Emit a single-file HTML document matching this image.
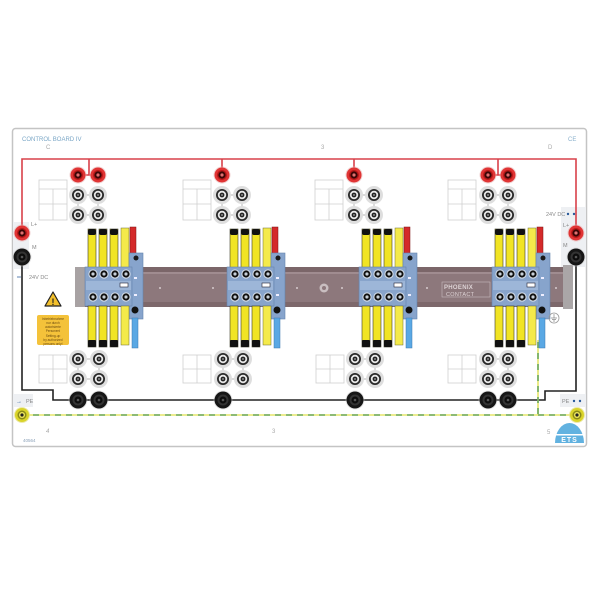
<!DOCTYPE html>
<html><head><meta charset="utf-8"><style>
html,body{margin:0;padding:0;background:#fff;}
svg{display:block;}
text{font-family:"Liberation Sans",sans-serif;}
</style></head><body>
<svg width="600" height="600" viewBox="0 0 600 600" xmlns="http://www.w3.org/2000/svg">
<defs>
  <g id="sr">
    <circle r="8.5" fill="#e8b4b4" opacity="0.6"/>
    <circle r="7.5" fill="#e03434"/>
    <circle r="5" fill="#b81818"/>
    <circle r="3.6" fill="#3a0606"/>
    <circle r="1.6" fill="#e07070"/>
  </g>
  <g id="sg">
    <circle r="9" fill="#dedede"/>
    <circle r="6" fill="#2a2a2a"/>
    <circle r="4.2" fill="#e8e8e8"/>
    <circle r="2.4" fill="#222"/>
    <circle r="0.9" fill="#aaa"/>
  </g>
  <g id="sb">
    <circle r="9.5" fill="#cfcfcf" opacity="0.5"/>
    <circle r="8.5" fill="#161616"/>
    <circle r="5.5" fill="#333"/>
    <circle r="3.5" fill="#0c0c0c"/>
    <circle r="1.3" fill="#555"/>
  </g>
  <g id="ty">
    <circle r="4.6" fill="#d8e0ea"/>
    <circle r="3.6" fill="#111"/>
    <circle r="1.6" fill="#c8d0d8"/>
  </g>
  <g id="mod">
    <rect x="3" y="229" width="8" height="40" fill="#f1e424" stroke="#3a3a2a" stroke-width="0.6"/>
    <rect x="14" y="229" width="8" height="40" fill="#f1e424" stroke="#3a3a2a" stroke-width="0.6"/>
    <rect x="25" y="229" width="8" height="40" fill="#f1e424" stroke="#3a3a2a" stroke-width="0.6"/>
    <rect x="36" y="228" width="8" height="41" fill="#f4ea4a" stroke="#6a6a30" stroke-width="0.5"/>
    <rect x="3" y="229" width="8" height="6" rx="2" fill="#111"/>
    <rect x="14" y="229" width="8" height="6" rx="2" fill="#111"/>
    <rect x="25" y="229" width="8" height="6" rx="2" fill="#111"/>
    <rect x="45" y="227" width="6" height="28" fill="#d42a2a" stroke="#7a1010" stroke-width="0.5"/>
    <rect x="44" y="253" width="14" height="66" fill="#87a4cc" stroke="#6584ad" stroke-width="0.6"/>
    <circle cx="51" cy="258" r="2.5" fill="#1a1a1a"/>
    <rect x="49" y="277" width="3" height="2" fill="#eef"/>
    <rect x="49" y="294" width="3" height="2" fill="#eef"/>
    <rect x="0" y="267" width="47" height="39" fill="#88a4cb" stroke="#6584ad" stroke-width="0.6"/>
    <rect x="1" y="281" width="45" height="9" fill="#9db6d8"/>
    <rect x="35" y="283" width="8" height="4" fill="#fff" stroke="#223" stroke-width="0.6"/>
    <use href="#ty" x="8" y="274"/><use href="#ty" x="19" y="274"/><use href="#ty" x="30" y="274"/><use href="#ty" x="41" y="274"/>
    <use href="#ty" x="8" y="297"/><use href="#ty" x="19" y="297"/><use href="#ty" x="30" y="297"/><use href="#ty" x="41" y="297"/>
    <rect x="3" y="306" width="8" height="41" fill="#f1e424" stroke="#3a3a2a" stroke-width="0.6"/>
    <rect x="14" y="306" width="8" height="41" fill="#f1e424" stroke="#3a3a2a" stroke-width="0.6"/>
    <rect x="25" y="306" width="8" height="41" fill="#f1e424" stroke="#3a3a2a" stroke-width="0.6"/>
    <rect x="36" y="306" width="8" height="39" fill="#f4ea4a" stroke="#6a6a30" stroke-width="0.5"/>
    <rect x="3" y="340" width="8" height="7" rx="1" fill="#111"/>
    <rect x="14" y="340" width="8" height="7" rx="1" fill="#111"/>
    <rect x="25" y="340" width="8" height="7" rx="1" fill="#111"/>
    <rect x="47" y="318" width="6" height="30" fill="#5aa8e4" stroke="#3a78b0" stroke-width="0.5"/>
    <circle cx="50" cy="310" r="3.5" fill="#111"/>
  </g>
  <g id="boxT" fill="none" stroke="#cfcfcf" stroke-width="0.8">
    <rect x="0" y="0" width="28" height="40"/>
    <line x1="0" y1="9" x2="28" y2="9"/>
    <line x1="14" y1="9" x2="14" y2="40"/>
    <line x1="0" y1="24" x2="28" y2="24"/>
  </g>
  <g id="boxB" fill="none" stroke="#cfcfcf" stroke-width="0.8">
    <rect x="0" y="0" width="28" height="28"/>
    <line x1="14" y1="0" x2="14" y2="28"/>
    <line x1="0" y1="14" x2="28" y2="14"/>
  </g>
</defs>

<rect x="12.5" y="128.5" width="574" height="318" rx="3" fill="#fff" stroke="#c4c4c4" stroke-width="1.5"/>

<rect x="13" y="222" width="16" height="47" fill="#eef0f3"/>
<rect x="561" y="207" width="25" height="60" fill="#eef0f3"/>
<rect x="13" y="394" width="20" height="13" fill="#eef0f3"/>
<rect x="560" y="394" width="26" height="13" fill="#eef0f3"/>

<use href="#boxT" x="39" y="180"/><use href="#boxT" x="183" y="180"/><use href="#boxT" x="315" y="180"/><use href="#boxT" x="448" y="180"/>
<use href="#boxB" x="39" y="355"/><use href="#boxB" x="183" y="355"/><use href="#boxB" x="316" y="355"/><use href="#boxB" x="448" y="355"/>

<g stroke="#d8414a" stroke-width="1.6" fill="none">
  <polyline points="22,226 22,159 576,159 576,226"/>
  <line x1="89" y1="159" x2="89" y2="175"/>
  <line x1="78" y1="175" x2="98" y2="175"/>
  <line x1="222" y1="159" x2="222" y2="170"/>
  <line x1="354" y1="159" x2="354" y2="170"/>
  <line x1="498" y1="159" x2="498" y2="175"/>
  <line x1="488" y1="175" x2="508" y2="175"/>
</g>

<g stroke="#c4c4c4" stroke-width="1.2">
  <path d="M78 195H98M78 215H98M78 195V215M98 195V215"/>
  <path d="M222 195H242M222 215H242M222 195V215M242 195V215"/>
  <path d="M354 195H374M354 215H374M354 195V215M374 195V215"/>
  <path d="M488 195H508M488 215H508M488 195V215M508 195V215"/>
  <path d="M78 359H99M78 379H99M78 359V379M99 359V379"/>
  <path d="M223 359H243M223 379H243M223 359V379M243 359V379"/>
  <path d="M355 359H375M355 379H375M355 359V379M375 359V379"/>
  <path d="M488 359H508M488 379H508M488 359V379M508 359V379"/>
</g>

<polyline points="22,264 22,390 53,390 53,400 545,400 545,391 576,391 576,264" fill="none" stroke="#222" stroke-width="1.6"/>

<g fill="none" stroke-width="1.6">
  <polyline points="22,415 538,415 538,340" stroke="#e6e66a"/>
  <polyline points="538,415 577,415" stroke="#e6e66a"/>
  <polyline points="22,415 538,415 538,340" stroke="#6aa860" stroke-dasharray="6,5"/>
  <polyline points="538,415 577,415" stroke="#6aa860" stroke-dasharray="6,5"/>
</g>

<rect x="75" y="267" width="497" height="40" fill="#8d787c"/>
<rect x="75" y="267" width="497" height="5" fill="#7b6669"/>
<rect x="75" y="302" width="497" height="5" fill="#7d686b"/>
<rect x="75" y="272" width="497" height="2" fill="#a08c90"/>
<rect x="75" y="267" width="10" height="40" fill="#a8a2a3"/>
<rect x="563" y="265" width="10" height="44" fill="#aaa6a7"/>
<circle cx="324" cy="288" r="4.5" fill="#c9bec0"/>
<circle cx="324" cy="288" r="2" fill="#8d787c"/>
<g fill="#d6cbcd">
  <circle cx="213" cy="288" r="1"/><circle cx="297" cy="288" r="1"/><circle cx="342" cy="288" r="1"/>
  <circle cx="427" cy="288" r="1"/><circle cx="556" cy="288" r="1"/><circle cx="160" cy="288" r="1"/>
</g>
<rect x="442" y="282" width="48" height="15" fill="none" stroke="#c8bcbe" stroke-width="0.6"/>
<text x="444" y="289" font-size="6" fill="#ddd3d5" font-weight="bold" letter-spacing="0.3">PHOENIX</text>
<text x="446" y="296" font-size="5.5" fill="#ddd3d5" letter-spacing="0.3">CONTACT</text>

<use href="#mod" x="85" y="0"/>
<use href="#mod" x="227" y="0"/>
<use href="#mod" x="359" y="0"/>
<use href="#mod" x="492" y="0"/>

<use href="#sr" x="78" y="175"/><use href="#sr" x="98" y="175"/><use href="#sr" x="222" y="175"/><use href="#sr" x="354" y="175"/><use href="#sr" x="488" y="175"/><use href="#sr" x="508" y="175"/>
<use href="#sr" x="22" y="233"/><use href="#sr" x="576" y="233"/>
<use href="#sg" x="78" y="195"/><use href="#sg" x="98" y="195"/><use href="#sg" x="78" y="215"/><use href="#sg" x="98" y="215"/>
<use href="#sg" x="222" y="195"/><use href="#sg" x="242" y="195"/><use href="#sg" x="222" y="215"/><use href="#sg" x="242" y="215"/>
<use href="#sg" x="354" y="195"/><use href="#sg" x="374" y="195"/><use href="#sg" x="354" y="215"/><use href="#sg" x="374" y="215"/>
<use href="#sg" x="488" y="195"/><use href="#sg" x="508" y="195"/><use href="#sg" x="488" y="215"/><use href="#sg" x="508" y="215"/>
<use href="#sg" x="78" y="359"/><use href="#sg" x="99" y="359"/><use href="#sg" x="78" y="379"/><use href="#sg" x="99" y="379"/>
<use href="#sg" x="223" y="359"/><use href="#sg" x="243" y="359"/><use href="#sg" x="223" y="379"/><use href="#sg" x="243" y="379"/>
<use href="#sg" x="355" y="359"/><use href="#sg" x="375" y="359"/><use href="#sg" x="355" y="379"/><use href="#sg" x="375" y="379"/>
<use href="#sg" x="488" y="359"/><use href="#sg" x="508" y="359"/><use href="#sg" x="488" y="379"/><use href="#sg" x="508" y="379"/>
<use href="#sb" x="78" y="400"/><use href="#sb" x="99" y="400"/><use href="#sb" x="223" y="400"/><use href="#sb" x="355" y="400"/><use href="#sb" x="488" y="400"/><use href="#sb" x="508" y="400"/>
<use href="#sb" x="22" y="257"/><use href="#sb" x="576" y="257"/>

<g>
  <circle cx="22" cy="415" r="8" fill="#e4e08a" opacity="0.7"/>
  <circle cx="22" cy="415" r="7" fill="#d9d32a"/>
  <circle cx="22" cy="415" r="4.5" fill="#8a8a18"/>
  <circle cx="22" cy="415" r="3" fill="#f0e860"/>
  <circle cx="22" cy="415" r="1.6" fill="#222"/>
  <circle cx="577" cy="415" r="8" fill="#e4e08a" opacity="0.7"/>
  <circle cx="577" cy="415" r="7" fill="#d9d32a"/>
  <circle cx="577" cy="415" r="4.5" fill="#8a8a18"/>
  <circle cx="577" cy="415" r="3" fill="#f0e860"/>
  <circle cx="577" cy="415" r="1.6" fill="#222"/>
</g>

<polygon points="53,292 61,306 45,306" fill="#f3c02c" stroke="#222" stroke-width="1.2" stroke-linejoin="round"/>
<text x="53" y="305" font-size="9" font-weight="bold" text-anchor="middle" fill="#222">!</text>
<rect x="37" y="315" width="32" height="30" rx="2" fill="#f4c23a"/>
<g font-size="3.2" fill="#6a4a10" text-anchor="middle">
  <text x="53" y="320">Inbetriebnahme</text>
  <text x="53" y="324">nur durch</text>
  <text x="53" y="328">autorisierte</text>
  <text x="53" y="332">Personen!</text>
  <text x="53" y="337">Setting-up</text>
  <text x="53" y="341">by authorized</text>
  <text x="53" y="345">persons only!</text>
</g>

<circle cx="554" cy="318" r="5" fill="none" stroke="#999" stroke-width="0.8"/>
<path d="M554 314V318M551 318H557M552 319.5H556M553 321H555" stroke="#888" stroke-width="0.7"/>

<text x="22" y="141" font-size="6" fill="#7aa6c6">CONTROL BOARD IV</text>
<text x="46" y="149" font-size="6" fill="#aaa">C</text>
<text x="321" y="149" font-size="6" fill="#aaa">3</text>
<text x="548" y="149" font-size="6" fill="#aaa">D</text>
<text x="568" y="141" font-size="6" fill="#8ab0cc">CE</text>
<text x="31" y="226" font-size="5.5" fill="#888">L+</text>
<text x="32" y="249" font-size="5.5" fill="#888">M</text>
<text x="17" y="279" font-size="5.5" fill="#2a5a9a">═</text>
<text x="29" y="279" font-size="5.5" fill="#888">24V DC</text>
<text x="546" y="216" font-size="5.5" fill="#888">24V DC</text>
<circle cx="568" cy="214" r="1.2" fill="#2a5a9a"/><circle cx="574" cy="214" r="1.2" fill="#2a5a9a"/>
<text x="563" y="227" font-size="5.5" fill="#888">L+</text>
<text x="563" y="247" font-size="5.5" fill="#888">M</text>
<text x="16" y="403" font-size="6" fill="#2a5a9a">→</text>
<text x="26" y="403" font-size="5.5" fill="#888">PE</text>
<text x="562" y="403" font-size="5.5" fill="#888">PE</text>
<circle cx="574" cy="401" r="1.2" fill="#2a5a9a"/><circle cx="580" cy="401" r="1.2" fill="#2a5a9a"/>
<text x="46" y="433" font-size="6" fill="#aaa" font-style="italic">4</text>
<text x="272" y="433" font-size="6" fill="#aaa">3</text>
<text x="547" y="434" font-size="6" fill="#aaa">5</text>
<text x="23" y="442" font-size="4.5" fill="#8aa0b8">40564</text>

<path d="M555 443 A14.5 20 0 0 1 584 443 Z" fill="#62b2e0"/>
<rect x="555" y="434" width="29" height="1.5" fill="#fff"/>
<text x="569.5" y="442" font-size="7" font-weight="bold" fill="#fff" text-anchor="middle" letter-spacing="1">ETS</text>
</svg>
</body></html>
